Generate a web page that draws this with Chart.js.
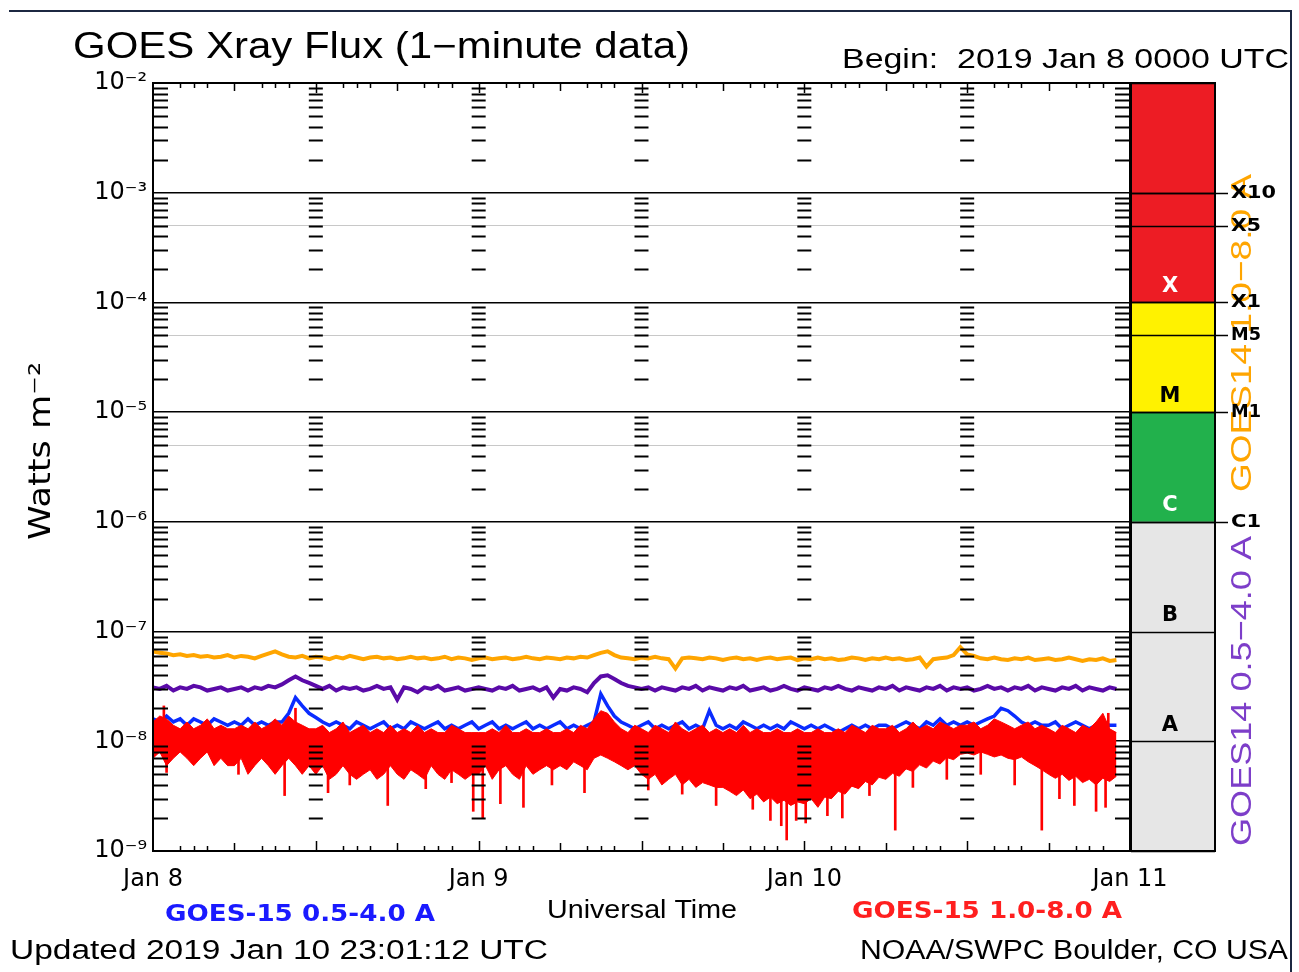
<!DOCTYPE html>
<html>
<head>
<meta charset="utf-8">
<script src="https://cdn.jsdelivr.net/npm/chart.js@4/dist/chart.umd.min.js"></script>
<style>
  body { margin: 0; background: #fff; }
  canvas { display: block; }
</style>
</head>
<body>
<canvas id="xray" width="1299" height="972"></canvas>
<script>
// samples every 30 min from 2019 Jan 8 0000 UTC, values in 1e-9 W m^-2
var STEP = 0.5
var NW = 1e-9

var goes14Long = [
	66,64,63,61,62,60,61,59,60,58,59,61,
	58,60,59,57,60,63,66,62,59,58,60,57,
	59,58,56,59,57,60,58,56,58,59,57,58,
	56,57,59,57,58,56,57,59,56,58,57,55,
	57,58,56,57,58,56,57,59,57,56,58,57,
	56,58,57,59,58,61,64,66,61,58,57,56,
	58,57,59,57,56,46,57,58,57,56,58,57,
	55,57,58,56,57,55,57,58,56,57,58,55,
	57,56,58,56,57,55,56,58,57,55,57,56,
	58,56,57,55,56,58,48,56,57,58,61,72,
	62,60,57,56,58,56,55,57,56,58,55,56,
	57,55,56,58,56,54,56,55,57,54,55
]

var goes14Short = [
	31,30,32,29,31,30,32,31,29,30,31,29,
	30,31,29,31,30,32,31,33,36,39,36,34,
	32,30,32,29,31,30,31,29,30,32,30,31,
	24,31,30,28,31,30,32,29,30,31,29,30,
	31,30,29,31,30,32,29,30,31,29,31,25,
	30,29,31,30,28,34,39,40,37,34,32,31,
	30,31,29,31,30,29,31,30,32,29,31,30,
	29,31,30,32,29,30,31,29,30,32,30,29,
	31,30,29,31,30,32,30,29,31,30,29,31,
	30,32,29,31,30,29,31,30,32,29,31,30,
	31,29,30,32,30,31,29,31,30,32,29,31,
	30,29,31,30,32,29,31,30,29,31,30
]

var goes15Short = [
	16,15,17,15,16,14,16,15,14,16,15,14,
	15,14,16,14,15,14,15,15,18,25,21,18,
	16.5,15,14,15,14,13,15,14,13,14,15,13,
	14,13,15,14,13,14,15,13,14,13,14,15,
	13,14,15,13,14,13,14,15,13,14,13,14,
	15,13,14,13,14,15,27,21,17,15,14,13,
	14,15,13,14,13,14,15,13,14,13,19,14,
	13,14,13,15,14,13,14,13,14,13,15,14,
	13,14,13,14,13,12,13,14,13,14,13,14,
	14,13,14,15,14,13,15,14,16,14,15,14,
	15,14,15,16,17,20,19,17,15,14,15,14,
	14,15,13,14,15,14,13,14,15,14,14
]

// GOES-15 1-8 A: upper and lower edge of the noisy band
var goes15LongTop = [
	15,17,16,14,13,15,13,14,16,13,14,13,
	13,14,13,15,13,14,16,14,17,15,14,13,
	13,14,12,13,15,12,13,14,12,13,12,14,
	12,13,12,14,12,13,12,12,14,13,12,12,
	12,12,13,12,14,12,12,13,12,12,13,12,
	12,13,12,14,13,16,19,18,15,13,12,14,
	13,12,14,13,12,15,13,12,13,14,12,13,
	12,13,12,14,12,13,12,12,13,12,12,13,
	12,12,13,12,12,13,12,14,13,12,14,13,
	13,14,12,13,15,13,14,13,15,14,13,14,
	14,15,13,14,16,15,14,13,14,15,13,14,
	13,12,14,13,12,14,13,15,18,13,12
]

var goes15LongBottom = [
	7,8,6,7,8,7,6,7,8,6,7,6,
	6,7,5,6,7,6,5,6,7,6,5,6,
	5,6,4.5,5,6,5,4.5,5,5.5,4.5,5,6,
	5,4.5,5.5,5,4.5,6,5,4.5,5.5,5,4.5,5,
	5,6,4.5,5.5,6,5,4.5,6,5,5.5,6,5.5,
	6,5.5,6.5,6,5.5,7,7.5,7,6.5,6,5.5,6,
	5,4.5,5,4,4.5,5,4,4.5,3.8,4.2,4,3.8,
	3.8,3.5,3.2,3.6,3,3.3,2.8,3.1,2.7,2.9,2.6,2.8,
	2.7,3.0,2.5,3.1,3.0,3.5,3.3,3.9,3.7,4.3,4.0,4.7,
	4.5,5.1,4.8,5.6,5.3,6.1,5.7,6.6,6.2,7.1,6.8,7.6,
	7.8,7.5,8,7.6,7.2,7.5,7,6.8,7.2,6.5,6,5.5,
	5,4.6,5,4.4,4.8,4.2,4.5,4,4.6,4.3,4.8
]

// single spikes of the 1-8 A channel (hour, from, to)
var spikeHours = [0.8,1.0,6.3,9.7,10.5,12.9,14.5,17.3,20.1,22.0,23.6,24.3,25.6,27.3,29.4,31.8,33.0,36.5,39.0,41.5,44.2,45.5,46.3,46.7,47.4,48.1,49.7,50.8,52.8,54.7,56.0,58.5,61.0,63.5,65.5,66.8,67.9,69.5,70.2,70.4]
var spikeLow   = [12,5.2,5.0,3.2,12,3.4,4.0,2.6,3.7,4.2,2.3,2.0,2.7,2.5,4.0,3.4,12,3.6,3.3,2.6,2.4,1.9,1.7,1.26,1.9,1.8,2.1,2.0,3.2,1.55,3.8,4.5,5.0,4.0,1.55,3.0,2.6,2.3,2.5,12]
var spikeHigh  = [21,9,9,9,20,9,9,9,9,9,9,9,9,9,9,9,18,9,9,9,9,9,9,9,9,9,9,9,9,9,9,9,9,9,9,9,9,9,9,18]

var dayTicks = [0, 24, 48, 72]
var dayLabels = ['Jan 8', 'Jan 9', 'Jan 10', 'Jan 11']
var minorHours = [2, 3, 4, 6, 8, 9, 10]
var columnHours = [0, 12, 24, 36, 48, 60, 72]
var decades = [1e-9, 1e-8, 1e-7, 1e-6, 1e-5, 1e-4, 1e-3, 1e-2]
var halfLines = [5e-6, 5e-5, 5e-4]

var classNames = ['X', 'M', 'C', 'B', 'A']
var classTop = [1e-2, 1e-4, 1e-5, 1e-6, 1e-7]
var classBottom = [1e-4, 1e-5, 1e-6, 1e-7, 1e-9]
var classLabelAt = [1e-4, 1e-5, 1e-6, 1e-7, 1e-8]
var classFill = ['#ed1c24', '#fff200', '#22b14c', '#e6e6e6', '#e6e6e6']
var classInk = ['#fff', '#000', '#fff', '#000', '#000']

var levelValues = [1e-3, 5e-4, 1e-4, 5e-5, 1e-5, 1e-6]
var levelNames = ['X10', 'X5', 'X1', 'M5', 'M1', 'C1']

var SUP = {'-': '\u207b', '0': '\u2070', '1': '\u00b9', '2': '\u00b2', '3': '\u00b3', '4': '\u2074', '5': '\u2075', '6': '\u2076', '7': '\u2077', '8': '\u2078', '9': '\u2079'}

function toPoints(arr) {
	return arr.map(function (v, i) { return {x: i * STEP, y: v * NW} })
}

function isDecade(v) {
	var l = Math.log10(v)
	return Math.abs(l - Math.round(l)) < 1e-6
}

function fitText(ctx, txt, x, y, w, font, color, rotate) {
	ctx.save()
	ctx.font = font
	ctx.fillStyle = color
	ctx.textAlign = 'left'
	ctx.textBaseline = 'middle'
	ctx.translate(x, y)
	if (rotate) ctx.rotate(-Math.PI / 2)
	var m = ctx.measureText(txt).width
	ctx.scale(w / m, 1)
	ctx.fillText(txt, 0, 0)
	ctx.restore()
}

var goesDecor = {
	id: 'goesDecor',
	afterDraw: function (chart) {
		var ctx = chart.ctx
		var a = chart.chartArea
		var x = chart.scales.x
		var y = chart.scales.y

		ctx.save()
		// minor tick columns every 12 hours
		ctx.strokeStyle = '#000'
		ctx.lineWidth = 2
		columnHours.forEach(function (h) {
			var px = x.getPixelForValue(h)
			var x0 = px - 7, x1 = px + 7
			if (h === 0) { x0 = px; x1 = px + 15 }
			if (h === 72) { x0 = px - 15; x1 = px }
			for (var d = -9; d < -2; d++) {
				for (var k = 2; k <= 9; k++) {
					var py = Math.round(y.getPixelForValue(k * Math.pow(10, d))) + 0.5
					ctx.beginPath()
					ctx.moveTo(x0, py)
					ctx.lineTo(x1, py)
					ctx.stroke()
				}
			}
		})

		// hour ticks on top and bottom
		ctx.lineWidth = 1.5
		for (var h = 1; h < 72; h++) {
			var m = h % 12
			var len = 0
			if (m === 0) len = 10
			else if (m === 6) len = 8
			else if (minorHours.indexOf(m) >= 0) len = 5
			if (!len) continue
			var px = Math.round(x.getPixelForValue(h)) + 0.5
			ctx.beginPath()
			ctx.moveTo(px, a.top)
			ctx.lineTo(px, a.top + len)
			ctx.moveTo(px, a.bottom)
			ctx.lineTo(px, a.bottom - len)
			ctx.stroke()
		}

		// plot frame
		ctx.lineWidth = 2
		ctx.strokeRect(a.left, a.top, a.right - a.left, a.bottom - a.top)

		// flare class bar
		var bx = a.right + 1, bw = 84
		classNames.forEach(function (name, i) {
			var t = y.getPixelForValue(classTop[i])
			var b = y.getPixelForValue(classBottom[i])
			ctx.fillStyle = classFill[i]
			ctx.fillRect(bx, t, bw, b - t)
		})
		ctx.lineWidth = 1.5
		decades.forEach(function (v) {
			var py = Math.round(y.getPixelForValue(v)) + 0.5
			ctx.beginPath()
			ctx.moveTo(bx, py)
			ctx.lineTo(bx + bw, py)
			ctx.stroke()
		})
		ctx.lineWidth = 2
		ctx.strokeRect(bx, a.top, bw, a.bottom - a.top)

		ctx.font = 'bold 21px "DejaVu Sans"'
		ctx.textAlign = 'center'
		ctx.textBaseline = 'middle'
		classNames.forEach(function (name, i) {
			ctx.fillStyle = classInk[i]
			ctx.fillText(name, bx + 39, y.getPixelForValue(classLabelAt[i]) - 16)
		})

		// rotated channel labels of GOES-14
		fitText(ctx, 'GOES14 1.0\u22128.0 A', 1243, 492, 318, '30px "Liberation Sans"', '#ffa500', true)
		fitText(ctx, 'GOES14 0.5\u22124.0 A', 1243, 846, 310, '30px "Liberation Sans"', '#7d3ec9', true)

		// class levels
		ctx.strokeStyle = '#000'
		ctx.lineWidth = 1.5
		levelValues.forEach(function (v, i) {
			var py = Math.round(y.getPixelForValue(v)) + 0.5
			ctx.beginPath()
			ctx.moveTo(isDecade(v) ? a.right : a.right - 13, py)
			ctx.lineTo(a.right + 98, py)
			ctx.stroke()
			fitText(ctx, levelNames[i], a.right + 101, py, levelNames[i].length * 15, 'bold 18px "DejaVu Sans"', '#000', false)
		})

		// texts
		fitText(ctx, 'GOES Xray Flux (1\u2212minute data)', 73, 48, 617, '36px "Liberation Sans"', '#000')
		fitText(ctx, 'Begin:  2019 Jan 8 0000 UTC', 842, 60, 447, '28px "Liberation Sans"', '#000')
		fitText(ctx, 'Watts m\u207b\u00b2', 42, 540, 178, '30px "DejaVu Sans"', '#000', true)
		fitText(ctx, 'Universal Time', 547, 911, 190, '25px "Liberation Sans"', '#000')
		fitText(ctx, 'GOES-15 0.5-4.0 A', 165, 915, 270, 'bold 23px "DejaVu Sans"', '#1a1aff')
		fitText(ctx, 'GOES-15 1.0-8.0 A', 852, 912, 270, 'bold 23px "DejaVu Sans"', '#ff1f1f')
		fitText(ctx, 'Updated 2019 Jan 10 23:01:12 UTC', 10, 952, 538, '27px "Liberation Sans"', '#000')
		fitText(ctx, 'NOAA/SWPC Boulder, CO USA', 860, 952, 428, '27px "Liberation Sans"', '#000')

		// page frame
		ctx.strokeStyle = '#1c2841'
		ctx.lineWidth = 2
		ctx.beginPath()
		ctx.moveTo(9, 11)
		ctx.lineTo(1291, 11)
		ctx.lineTo(1291, 972)
		ctx.stroke()
		ctx.restore()
	}
}

var config = {
	type: 'line',
	data: {
		datasets: [{
			label: 'GOES-15 1.0-8.0 A',
			data: toPoints(goes15LongTop),
			borderColor: '#ff0000',
			backgroundColor: '#ff0000',
			borderWidth: 1,
			fill: '+1'
		}, {
			label: 'GOES-15 1.0-8.0 A low',
			data: toPoints(goes15LongBottom),
			borderColor: '#ff0000',
			borderWidth: 1,
			fill: false
		}, {
			type: 'bar',
			label: 'GOES-15 1.0-8.0 A spikes',
			data: spikeHours.map(function (h, i) {
				return {x: h, y: [spikeLow[i] * NW, spikeHigh[i] * NW]}
			}),
			backgroundColor: '#ff0000',
			barThickness: 2,
			borderWidth: 0
		}, {
			label: 'GOES-15 0.5-4.0 A',
			data: toPoints(goes15Short),
			borderColor: '#0a2cff',
			borderWidth: 3.5,
			fill: false
		}, {
			label: 'GOES14 0.5-4.0 A',
			data: toPoints(goes14Short),
			borderColor: '#5a0aa8',
			borderWidth: 4,
			fill: false
		}, {
			label: 'GOES14 1.0-8.0 A',
			data: toPoints(goes14Long),
			borderColor: '#ffa500',
			borderWidth: 4,
			fill: false
		}]
	},
	options: {
		responsive: false,
		animation: false,
		events: [],
		elements: {
			point: { radius: 0 },
			line: { tension: 0 }
		},
		layout: {
			padding: { left: 0, top: 83, right: 169, bottom: 0 }
		},
		plugins: {
			legend: { display: false },
			tooltip: { enabled: false }
		},
		scales: {
			x: {
				type: 'linear',
				min: 0,
				max: 72,
				offset: false,
				afterBuildTicks: function (s) {
					s.ticks = dayTicks.map(function (v) { return {value: v} })
				},
				afterFit: function (s) { s.height = 121 },
				ticks: {
					autoSkip: false,
					maxRotation: 0,
					padding: 14,
					color: '#000',
					font: { family: 'DejaVu Sans', size: 24 },
					callback: function (v) { return dayLabels[dayTicks.indexOf(v)] }
				},
				grid: { display: false, drawTicks: false },
				border: { display: false }
			},
			y: {
				type: 'logarithmic',
				min: 1e-9,
				max: 1e-2,
				z: 1,
				afterBuildTicks: function (s) {
					s.ticks = decades.concat(halfLines).map(function (v) { return {value: v} })
				},
				afterFit: function (s) { s.width = 153 },
				ticks: {
					autoSkip: false,
					padding: 6,
					color: '#000',
					font: { family: 'DejaVu Sans', size: 24 },
					callback: function (v) {
						if (!isDecade(v)) return ''
						var e = String(Math.round(Math.log10(v)))
						return '10' + e.split('').map(function (c) { return SUP[c] }).join('')
					}
				},
				grid: {
					drawTicks: false,
					color: function (c) { return isDecade(c.tick.value) ? '#000' : '#c8c8c8' },
					lineWidth: function (c) { return isDecade(c.tick.value) ? 1.6 : 1 }
				},
				border: { display: false }
			}
		}
	},
	plugins: [goesDecor]
}

var chart = new Chart(document.getElementById('xray'), config)
</script>
</body>
</html>
